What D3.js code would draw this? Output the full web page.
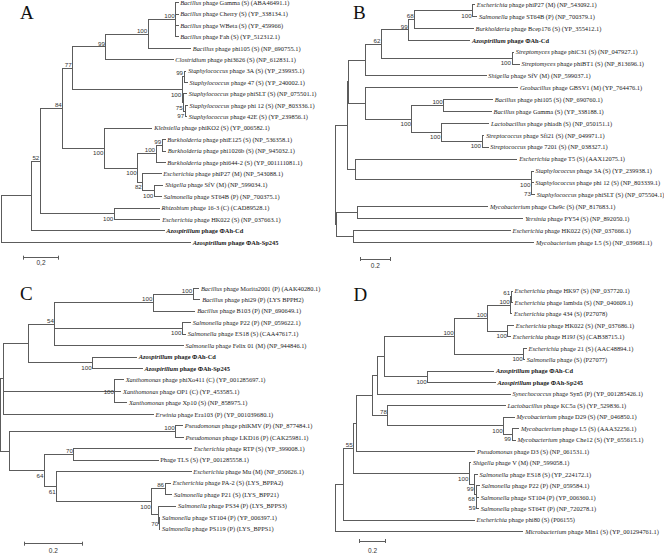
<!DOCTYPE html>
<html><head><meta charset="utf-8">
<script src="https://cdn.jsdelivr.net/npm/d3@7"></script>
<style>body{margin:0;background:#fff}svg{display:block}</style>
</head><body>
<svg id="c" width="664" height="555"></svg>
<script>
// ---------- DATA ----------
// internal nodes: [id, parent, cumulative distance from root, bootstrap, label placement a=above b=below m=middle]
// leaves: [label, parent, cumulative distance from root]  (listed top to bottom)
const panelLetters = ["A", "B", "C", "D"];
const scaleLabels = ["0,2", "0.2", "0.2", "0.2"];

const nodesA = [
  ["root", null, 0, null, null], ["N95", "root", 0.173, null, null], ["N121", "N95", 0.222, 52, "a"],
  ["N188", "N121", 0.349, 84, "a"], ["N218", "N188", 0.405, 77, "a"], ["N318", "N218", 0.593, 99, "a"],
  ["N445", "N318", 0.832, 100, "a"], ["N527", "N445", 0.987, 100, "a"], ["ST100", "N218", 1.024, 100, "b"],
  ["S99", "ST100", 1.034, 99, "a"], ["S75", "ST100", 1.032, 75, "b"], ["S97", "S75", 1.040, 97, "b"],
  ["N313", "N188", 0.584, 100, "b"], ["N413", "N313", 0.772, 100, "b"], ["N468", "N413", 0.876, 100, "a"],
  ["N487", "N468", 0.911, 99, "a"], ["N428", "N413", 0.801, 82, "b"], ["N463", "N428", 0.866, 100, "b"],
  ["N343", "N121", 0.640, 100, "b"]
];
const leavesA = [
  ["Bacillus phage Gamma (S) (ABA46491.1)", "N527", 1.000],
  ["Bacillus phage Cherry (S) (YP_338134.1)", "N527", 1.000],
  ["Bacillus phage WBeta (S) (YP_459966)", "N527", 1.000],
  ["Bacillus phage Fah (S) (YP_512312.1)", "N527", 1.000],
  ["Bacillus phage phi105 (S) (NP_690755.1)", "N445", 1.071],
  ["Clostridium phage phi3626 (S) (NP_612831.1)", "N318", 0.972],
  ["Staphylococcus phage 3A (S) (YP_239935.1)", "S99", 1.045],
  ["Staphylococcus phage 47 (S) (YP_240002.1)", "S99", 1.053],
  ["Staphylococcus phage phiSLT (S) (NP_075501.1)", "S75", 1.049],
  ["Staphylococcus phage phi 12 (S) (NP_803336.1)", "S97", 1.053],
  ["Staphylococcus phage 42E (S) (YP_239856.1)", "S97", 1.049],
  ["Klebsiella phage phiKO2 (S) (YP_006582.1)", "N313", 0.853],
  ["Burkholderia phage phiE125 (S) (NP_536358.1)", "N487", 0.927],
  ["Burkholderia phage phi1026b (S) (NP_945032.1)", "N487", 0.929],
  ["Burkholderia phage phi644-2 (S) (YP_001111081.1)", "N468", 0.927],
  ["Escherichia phage phiP27 (M) (NP_543088.1)", "N428", 0.904],
  ["Shigella phage SfV (M) (NP_599034.1)", "N463", 0.915],
  ["Salmonella phage ST64B (P) (NP_700375.1)", "N463", 0.907],
  ["Rhizobium phage 16-3 (C) (CAD89528.1)", "N343", 0.895],
  ["Escherichia phage HK022 (S) (NP_037663.1)", "N343", 0.898],
  ["Azospirillum phage ΦAh-Cd", "N95", 0.921],
  ["Azospirillum phage ΦAh-Sp245", "root", 1.071]
];

const nodesB = [
  ["root", null, 0, null, null], ["i", "root", 0.078, null, null], ["h", "i", 0.089, null, null],
  ["f", "h", 0.200, null, null], ["e", "f", 0.307, 62, "a"], ["c", "e", 0.489, 99, "a"],
  ["b", "c", 0.529, 68, "a"], ["a", "b", 0.916, 100, "b"], ["d", "e", 1.178, 100, "b"],
  ["gN", "h", 0.200, null, null], ["g2", "gN", 0.511, 100, "b"], ["g3", "g2", 0.723, 100, "a"],
  ["g4", "g2", 0.707, 100, "b"], ["g5", "g4", 0.978, 100, "b"], ["m", "i", 0.133, null, null],
  ["s100", "m", 1.307, 100, "b"], ["s73", "s100", 1.311, 73, "b"], ["l", "root", 0.011, null, null],
  ["j", "l", 0.145, null, null], ["k", "l", 0.123, null, null]
];
const leavesB = [
  ["Escherichia phage phiP27 (M) (NP_543092.1)", "a", 0.929],
  ["Salmonella phage ST64B (P) (NP_700379.1)", "a", 0.943],
  ["Burkholderia phage Bcep176 (S) (YP_355412.1)", "b", 0.920],
  ["Azospirillum phage ΦAh-Cd", "c", 0.896],
  ["Streptomyces phage phiC31 (S) (NP_047927.1)", "d", 1.189],
  ["Streptomyces phage phiBT1 (S) (NP_813696.1)", "d", 1.227],
  ["Shigella phage SfV (M) (NP_599037.1)", "f", 1.005],
  ["Geobacillus phage GBSV1 (M) (YP_764476.1)", "gN", 1.216],
  ["Bacillus phage phi105 (S) (NP_690760.1)", "g3", 1.049],
  ["Bacillus phage Gamma (S) (YP_338188.1)", "g3", 1.040],
  ["Lactobacillus phage phiadh (S) (NP_050151.1)", "g4", 1.023],
  ["Streptococcus phage Sfi21 (S) (NP_049971.1)", "g5", 0.991],
  ["Streptococcus phage 7201 (S) (NP_038327.1)", "g5", 1.018],
  ["Escherichia phage T5 (S) (AAX12075.1)", "m", 1.211],
  ["Staphylococcus phage 3A (S) (YP_239938.1)", "s100", 1.320],
  ["Staphylococcus phage phi 12 (S) (NP_803339.1)", "s73", 1.318],
  ["Staphylococcus phage phiSLT (S) (NP_075504.1)", "s73", 1.329],
  ["Mycobacterium phage Che9c (S) (NP_817683.1)", "j", 1.016],
  ["Yersinia phage PY54 (S) (NP_892050.1)", "j", 1.251],
  ["Escherichia phage HK022 (S) (NP_037666.1)", "k", 1.167],
  ["Mycobacterium phage L5 (S) (NP_039681.1)", "k", 1.323]
];

const nodesC = [
  ["root", null, 0, null, null], ["T", "root", 0.011, null, null], ["N85", "T", 0.094, null, null],
  ["N54", "N85", 0.185, 54, "a"], ["N460", "N54", 0.521, 100, "a"], ["Mor", "N460", 0.657, 100, "a"],
  ["P22n", "N54", 0.620, 100, "b"], ["AhN", "N85", 0.314, 100, "b"], ["Xan", "T", 0.390, 100, "m"],
  ["Bn", "root", 0.029, null, null], ["KMV", "Bn", 0.597, 100, "a"], ["N64", "Bn", 0.149, 64, "b"],
  ["RTPn", "N64", 0.250, 70, "a"], ["N61", "N64", 0.191, 61, "b"], ["X", "N61", 0.515, 100, "b"],
  ["PA2n", "X", 0.561, 86, "a"], ["Y", "X", 0.539, null, null], ["Z", "Y", 0.541, 70, "m"]
];
const leavesC = [
  ["Bacillus phage Morita2001 (P) (AAK40280.1)", "Mor", 0.676],
  ["Bacillus phage phi29 (P) (LYS BPPH2)", "Mor", 0.680],
  ["Bacillus phage B103 (P) (NP_690649.1)", "N460", 0.663],
  ["Salmonella phage P22 (P) (NP_059622.1)", "P22n", 0.648],
  ["Salmonella phage ES18 (S) (CAA47617.1)", "P22n", 0.631],
  ["Salmonella phage Felix 01 (M) (NP_944846.1)", "N54", 0.623],
  ["Azospirillum phage ΦAh-Cd", "AhN", 0.464],
  ["Azospirillum phage ΦAh-Sp245", "AhN", 0.483],
  ["Xanthomonas phage phiXo411 (C) (YP_001285697.1)", "Xan", 0.419],
  ["Xanthomonas phage OP1 (C) (YP_453585.1)", "Xan", 0.410],
  ["Xanthomonas phage Xp10 (S) (NP_858975.1)", "Xan", 0.430],
  ["Erwinia phage Era103 (P) (YP_001039680.1)", "T", 0.521],
  ["Pseudomonas phage phiKMV (P) (NP_877484.1)", "KMV", 0.621],
  ["Pseudomonas phage LKD16 (P) (CAK25981.1)", "KMV", 0.623],
  ["Escherichia phage RTP (S) (YP_399008.1)", "RTPn", 0.652],
  ["Phage TLS (S) (YP_001285558.1)", "RTPn", 0.537],
  ["Escherichia phage Mu (M) (NP_050626.1)", "N61", 0.650],
  ["Escherichia phage PA-2 (S) (LYS_BPPA2)", "PA2n", 0.580],
  ["Salmonella phage P21 (S) (LYS_BPP21)", "PA2n", 0.584],
  ["Salmonella phage PS34 (P) (LYS_BPPS3)", "Y", 0.598],
  ["Salmonella phage ST104 (P) (YP_006397.1)", "Z", 0.543],
  ["Salmonella phage PS119 (P) (LYS_BPPS1)", "Z", 0.543]
];

const nodesD = [
  ["root", null, 0, null, null], ["n35", "root", 0.063, null, null], ["n65", "n35", 0.138, 55, "a"],
  ["n75", "n65", 0.163, null, null], ["n120", "n75", 0.276, null, null], ["n135", "n120", 0.314, null, null],
  ["n158", "n135", 0.371, null, null], ["n368", "n158", 0.898, 100, "a"], ["n468", "n368", 1.148, 100, "a"],
  ["n100a", "n468", 1.319, 100, "a"], ["n61", "n100a", 1.323, 61, "a"], ["nHK", "n468", 1.298, 100, "b"],
  ["n21", "n368", 1.417, 100, "b"], ["nAh", "n158", 0.695, 100, "b"], ["n78", "n120", 0.396, 78, "a"],
  ["nMy", "n78", 1.266, 100, "b"], ["nMy99", "nMy", 1.329, 99, "b"], ["nV", "n65", 1.008, 100, "b"],
  ["n99", "nV", 1.048, 99, "b"], ["n68", "n99", 1.058, 68, "b"], ["n59", "n68", 1.063, 59, "b"]
];
const leavesD = [
  ["Escherichia phage HK97 (S) (NP_037720.1)", "n61", 1.331],
  ["Escherichia phage lambda (S) (NP_040609.1)", "n61", 1.331],
  ["Escherichia phage 434 (S) (P27078)", "n100a", 1.327],
  ["Escherichia phage HK022 (S) (NP_037686.1)", "nHK", 1.341],
  ["Escherichia phage H19J (S) (CAB38715.1)", "nHK", 1.318],
  ["Escherichia phage 21 (S) (AAC48894.1)", "n21", 1.436],
  ["Salmonella phage (S) (P27077)", "n21", 1.423],
  ["Azospirillum phage ΦAh-Cd", "nAh", 1.191],
  ["Azospirillum phage ΦAh-Sp245", "nAh", 1.203],
  ["Synechococcus phage Syn5 (P) (YP_001285426.1)", "n135", 1.316],
  ["Lactobacillus phage KC5a (S) (YP_529836.1)", "n78", 1.278],
  ["Mycobacterium phage D29 (S) (NP_046850.1)", "nMy", 1.346],
  ["Mycobacterium phage L5 (S) (AAA32256.1)", "nMy99", 1.379],
  ["Mycobacterium phage Che12 (S) (YP_655615.1)", "nMy99", 1.353],
  ["Pseudomonas phage D3 (S) (NP_061531.1)", "n75", 1.048],
  ["Shigella phage V (M) (NP_599058.1)", "nV", 1.018],
  ["Salmonella phage ES18 (S) (YP_224172.1)", "n99", 1.068],
  ["Salmonella phage P22 (P) (NP_059584.1)", "n68", 1.083],
  ["Salmonella phage ST104 (P) (YP_006360.1)", "n59", 1.077],
  ["Salmonella phage ST64T (P) (NP_720278.1)", "n59", 1.077],
  ["Escherichia phage phi80 (S) (P06155)", "n35", 1.045],
  ["Microbacterium phage Min1 (S) (YP_001294761.1)", "root", 1.411]
];

// ---------- LAYOUT ----------
const panels = [
  {nodes: nodesA, leaves: leavesA, x0: 1, ppu: 177, y0: 2.7, y1: 242.3, lx: 20, ly: 18.5, sbx: 23.3, sby: 257.7, sbly: 265},
  {nodes: nodesB, leaves: leavesB, x0: 335.3, ppu: 150, y0: 4.7, y1: 242.3, lx: 353, ly: 18.5, sbx: 360.3, sby: 259, sbly: 268},
  {nodes: nodesC, leaves: leavesC, x0: 0.7, ppu: 293, y0: 288.3, y1: 529, lx: 20, ly: 300, sbx: 24, sby: 543.7, sbly: 553},
  {nodes: nodesD, leaves: leavesD, x0: 335.3, ppu: 133, y0: 291, y1: 531.7, lx: 353.5, ly: 301, sbx: 359.3, sby: 541, sbly: 553}
];

const svg = d3.select("#c");
const LINE = "#5c5c5c", TXT = "#1a1a1a";
const crisp = v => Math.round(v - 0.5) + 0.5;

panels.forEach((cfg, pi) => {
  const g = svg.append("g");
  const rows = cfg.nodes.map(n => ({id: n[0], parent: n[1], d: n[2], s: n[3], p: n[4]}))
    .concat(cfg.leaves.map((l, i) => ({id: "L" + i, parent: l[1], d: l[2], name: l[0]})));
  const root = d3.stratify().id(r => r.id).parentId(r => r.parent)(rows);
  const x = d3.scaleLinear().domain([0, 1]).range([cfg.x0, cfg.x0 + cfg.ppu]);
  const y = d3.scalePoint().domain(cfg.leaves.map((l, i) => "L" + i)).range([cfg.y0, cfg.y1]);
  root.eachAfter(n => {
    n.px = x(n.data.d);
    if (!n.children) n.py = y(n.id);
    else { const ys = n.children.map(c => c.py); n.py = (d3.min(ys) + d3.max(ys)) / 2; }
  });
  const all = root.descendants();
  // horizontal branches
  g.selectAll("line.h").data(all.filter(n => n.parent)).join("line")
    .attr("x1", n => crisp(n.parent.px)).attr("x2", n => crisp(n.px) + 0.5)
    .attr("y1", n => crisp(n.py)).attr("y2", n => crisp(n.py))
    .attr("stroke", LINE).attr("stroke-width", 1);
  // vertical connectors
  g.selectAll("line.v").data(all.filter(n => n.children)).join("line")
    .attr("x1", n => crisp(n.px)).attr("x2", n => crisp(n.px))
    .attr("y1", n => crisp(d3.min(n.children, c => c.py)) - 0.5)
    .attr("y2", n => crisp(d3.max(n.children, c => c.py)) + 0.5)
    .attr("stroke", LINE).attr("stroke-width", 1);
  // bootstrap values
  g.selectAll("text.bs").data(all.filter(n => n.data.s != null)).join("text")
    .attr("x", n => n.px - 1)
    .attr("y", n => n.py + (n.data.p === "a" ? -1.4 : n.data.p === "b" ? 7 : 2.6))
    .attr("text-anchor", "end")
    .attr("font-family", "'Liberation Sans', Arial, sans-serif").attr("font-size", 6.2)
    .attr("fill", "#333").text(n => n.data.s);
  // leaf labels
  const leafT = g.selectAll("text.leaf").data(all.filter(n => !n.children)).join("text")
    .attr("x", n => n.px + 2.2).attr("y", n => n.py + 2.2)
    .attr("font-family", "'Liberation Serif', 'Times New Roman', serif").attr("font-size", 6.4)
    .attr("fill", TXT);
  leafT.each(function(n) {
    const t = d3.select(this), name = n.data.name;
    const bold = name.startsWith("Azospirillum");
    if (bold) t.attr("font-weight", "bold");
    if (name.startsWith("Phage")) { t.text(name); return; }
    const sp = name.indexOf(" ");
    t.append("tspan").attr("font-style", "italic").text(name.slice(0, sp));
    t.append("tspan").text(name.slice(sp));
  });
  // scale bar
  const len = x(0.2) - x(0);
  const sb = g.append("g").attr("stroke", LINE).attr("stroke-width", 1);
  sb.append("line").attr("x1", cfg.sbx).attr("x2", cfg.sbx + len).attr("y1", crisp(cfg.sby)).attr("y2", crisp(cfg.sby));
  sb.append("line").attr("x1", crisp(cfg.sbx)).attr("x2", crisp(cfg.sbx)).attr("y1", cfg.sby - 2).attr("y2", cfg.sby + 2);
  sb.append("line").attr("x1", crisp(cfg.sbx + len)).attr("x2", crisp(cfg.sbx + len)).attr("y1", cfg.sby - 2).attr("y2", cfg.sby + 2);
  g.append("text").attr("x", cfg.sbx + len / 2).attr("y", cfg.sbly).attr("text-anchor", "middle")
    .attr("font-family", "'Liberation Sans', Arial, sans-serif").attr("font-size", 6.5).attr("fill", "#333")
    .text(scaleLabels[pi]);
  // panel letter
  g.append("text").attr("x", cfg.lx).attr("y", cfg.ly)
    .attr("font-family", "'Liberation Serif', 'Times New Roman', serif").attr("font-size", 19)
    .attr("fill", "#111").text(panelLetters[pi]);
});
</script>
</body></html>
